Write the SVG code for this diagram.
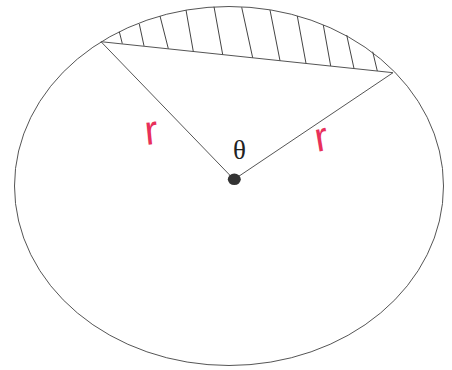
<svg xmlns="http://www.w3.org/2000/svg" width="452" height="370" viewBox="0 0 452 370">
<style>
.ln{stroke:#555;stroke-width:1;fill:none}
.ht{stroke:#444;stroke-width:1;fill:none}
.lbl{font-family:"Liberation Serif",serif;font-size:27px;fill:#222}
.r{font-family:"Liberation Sans",sans-serif;font-size:26px;fill:#e8305a}
</style>
<rect width="452" height="370" fill="#fff"/>
<g id="circle">
<ellipse cx="229" cy="186" rx="214.5" ry="179.5" class="ln"/>
</g>
<g id="segment">
<line x1="101" y1="41.7" x2="393" y2="72.7" class="ln"/>
<g class="ht">
<line x1="119.3" y1="31.7" x2="122.3" y2="43.6"/>
<line x1="139.3" y1="24" x2="144" y2="45.9"/>
<line x1="160" y1="16" x2="168.3" y2="48.6"/>
<line x1="186" y1="10" x2="193.3" y2="51.5"/>
<line x1="214" y1="6.7" x2="222.7" y2="54.6"/>
<line x1="241.7" y1="7.3" x2="252.7" y2="57.8"/>
<line x1="270" y1="10" x2="280" y2="60.7"/>
<line x1="297.3" y1="16" x2="306" y2="63.4"/>
<line x1="323.3" y1="25" x2="330.7" y2="66"/>
<line x1="346.7" y1="35" x2="354" y2="68.5"/>
<line x1="372.7" y1="51.7" x2="377.3" y2="71"/>
</g>
</g>
<g id="connectors">
<line x1="101" y1="41.7" x2="234" y2="179.5" class="ln"/>
<line x1="393" y1="72.7" x2="234" y2="179.5" class="ln"/>
</g>
<g id="center">
<ellipse cx="234.3" cy="179.3" rx="6.5" ry="5.8" fill="#333"/>
</g>
<g id="theta">
<text x="239.5" y="158.5" class="lbl" text-anchor="middle">θ</text>
</g>
<g id="r-left">
<text x="0" y="0" class="r" transform="translate(146 145) scale(1.5 1.6) rotate(-6)">r</text>
</g>
<g id="r-right">
<text x="0" y="0" class="r" transform="translate(317 152) scale(1.5 1.6) rotate(-10)">r</text>
</g>
</svg>
